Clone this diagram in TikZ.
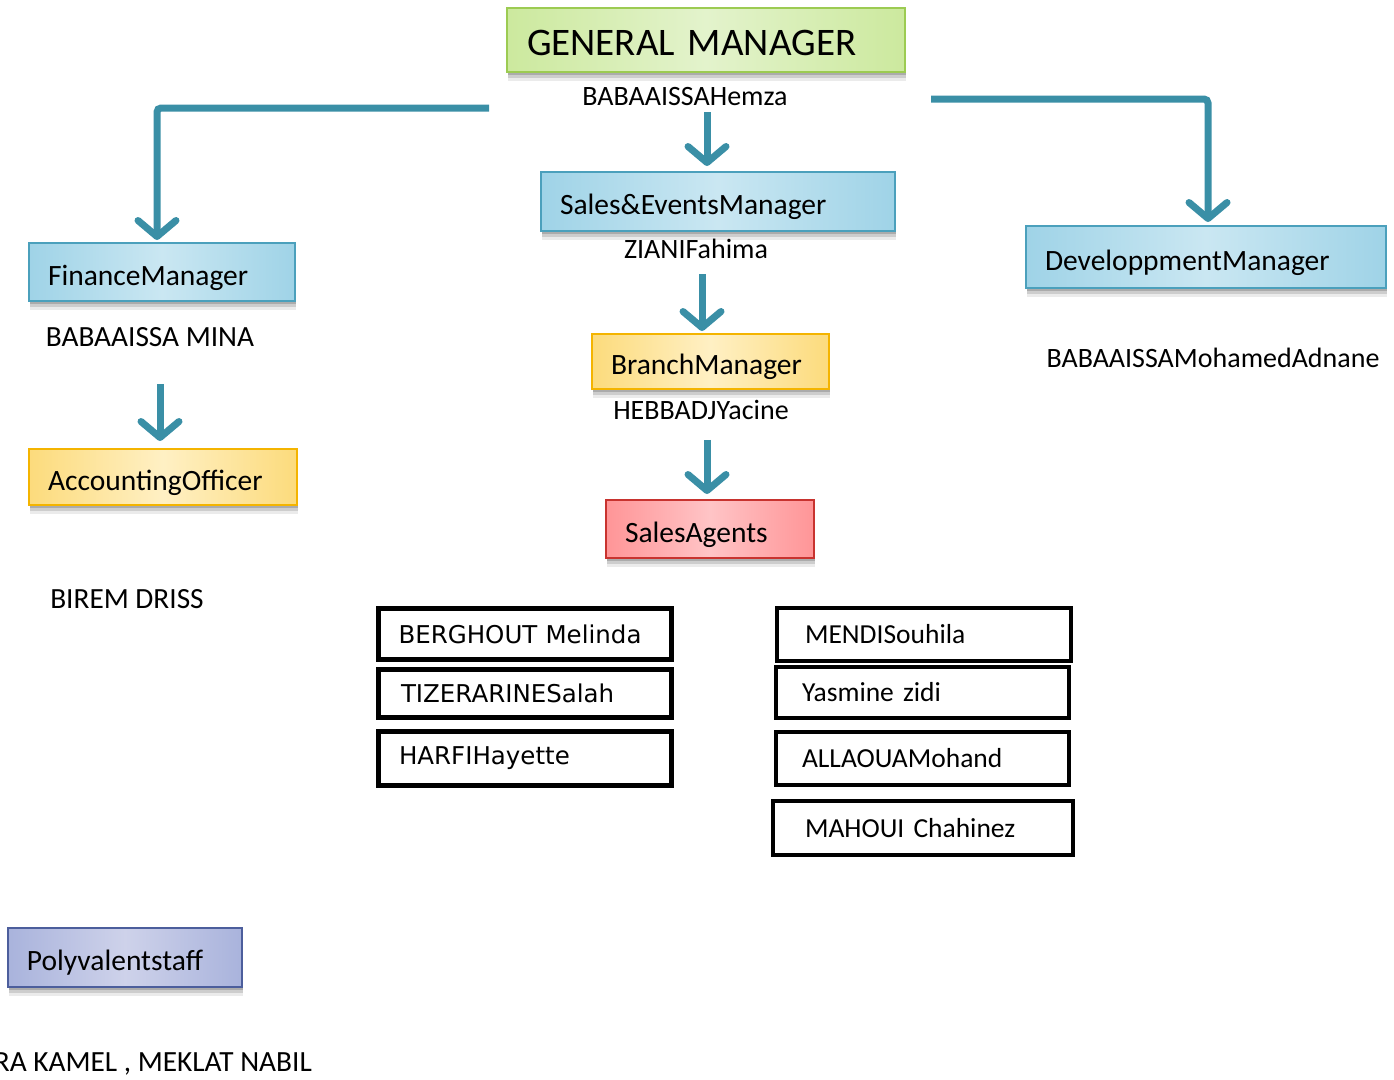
\documentclass[tikz,border=0pt]{standalone}
\usepackage{fontspec}
\setmainfont{Carlito}
\newfontfamily\boxsans{DejaVu Sans}
\usepackage{xcolor}
\usetikzlibrary{arrows.meta,positioning,shadows}

\definecolor{linkteal}{HTML}{3A8FA6}
\definecolor{bluedraw}{HTML}{4BA0BC}
\definecolor{blueside}{HTML}{9FD3E7}
\definecolor{bluemid}{HTML}{CAE7F2}
\definecolor{greendraw}{HTML}{9CCB52}
\definecolor{greenside}{HTML}{CCE99E}
\definecolor{greenmid}{HTML}{E3F3CC}
\definecolor{yellowdraw}{HTML}{F4B400}
\definecolor{yellowside}{HTML}{FCDB7C}
\definecolor{yellowmid}{HTML}{FFF0C4}
\definecolor{reddraw}{HTML}{C8332F}
\definecolor{redside}{HTML}{FF9597}
\definecolor{redmid}{HTML}{FFC4C6}
\definecolor{purpledraw}{HTML}{4C5E9C}
\definecolor{purpleside}{HTML}{A9B3DC}
\definecolor{purplemid}{HTML}{CED2EA}

\begin{document}
\begin{tikzpicture}[x=1pt, y=-1pt,
    post/.style={draw, line width=2pt, inner xsep=19pt, inner ysep=0pt,
                 text height=26pt, text depth=0pt,
                 align=left, font=\fontsize{29.5}{32}\selectfont,
                 general shadow={shadow xshift=1pt, shadow yshift=-3pt, fill=black, opacity=.16},
                 general shadow={shadow xshift=1pt, shadow yshift=-6pt, fill=black, opacity=.13},
                 general shadow={shadow xshift=1pt, shadow yshift=-9pt, fill=black, opacity=.08}},
    greenbox/.style={post, draw=greendraw, left color=greenside, right color=greenside, middle color=greenmid},
    bluebox/.style={post, draw=bluedraw, left color=blueside, right color=blueside, middle color=bluemid},
    yellowbox/.style={post, draw=yellowdraw, left color=yellowside, right color=yellowside, middle color=yellowmid},
    redbox/.style={post, draw=reddraw, left color=redside, right color=redside, middle color=redmid},
    purplebox/.style={post, draw=purpledraw, left color=purpleside, right color=purpleside, middle color=purplemid},
    person/.style={inner sep=0pt, font=\fontsize{28}{30}\selectfont},
    bigperson/.style={person, font=\fontsize{29.3}{32}\selectfont},
    namebox/.style={draw, line width=5pt, inner ysep=0pt, align=left,
                    font=\boxsans\fontsize{24.5}{28}\selectfont},
    agentbox/.style={draw, line width=4.5pt, inner ysep=0pt, align=left,
                     font=\fontsize{27.5}{30}\selectfont},
    link/.style={draw=linkteal, line width=7pt, -{Straight Barb[length=16pt, width=38pt, round]}}
]
\useasboundingbox (0,0) rectangle (1394,1079);

% management posts
\node[greenbox, text width=358pt, inner xsep=20pt, minimum height=64pt,
      text height=30pt, font=\fontsize{39}{42}\selectfont] (gm) at (706,40) {GENERAL MANAGER};
\node[bluebox, text width=316pt, minimum height=59pt] (sales) at (718,201.5) {Sales\&EventsManager};
\node[bluebox, text width=228pt, minimum height=58pt] (fin) at (162,272) {FinanceManager};
\node[bluebox, text width=322pt, minimum height=62pt] (dev) at (1206,257) {DeveloppmentManager};
\node[yellowbox, text width=199pt, minimum height=55pt] (branch) at (710.5,361.5) {BranchManager};
\node[yellowbox, text width=230pt, minimum height=56pt] (acc) at (163,477) {AccountingOfficer};
\node[redbox, text width=170pt, minimum height=58pt] (agents) at (710,529) {SalesAgents};
\node[purplebox, text width=196pt, minimum height=59pt] (poly) at (125,957.5) {Polyvalentstaff};

% people holding the posts
\node[person] (gmname) at (685,97) {BABAAISSAHemza};
\node[person] (salesname) at (696,249) {ZIANIFahima};
\node[person] (branchname) at (701,410) {HEBBADJYacine};
\node[bigperson] (finname) at (150,337) {BABAAISSA MINA};
\node[bigperson] (accname) at (127,599) {BIREM DRISS};
\node[person] (devname) at (1213,358) {BABAAISSAMohamedAdnane};
\node[bigperson, anchor=east] (polyname) at (312,1064) {RA KAMEL , MEKLAT NABIL};

% sales agents
\node[namebox, text width=253pt, inner xsep=20pt, minimum height=51pt] (agent1) at (525,634) {BERGHOUT Melinda};
\node[namebox, text width=248pt, inner xsep=22.5pt, minimum height=48pt] (agent2) at (525,693.5) {TIZERARINESalah};
\node[namebox, text width=252pt, inner xsep=20.5pt, minimum height=54pt] (agent3) at (525,758.5) {HARFIHayette};
\node[agentbox, text width=238pt, inner xsep=28pt, minimum height=53pt] (agent4) at (924,634.5) {MENDISouhila};
\node[agentbox, text width=241pt, inner xsep=26pt, minimum height=51pt] (agent5) at (922.5,692.5) {Yasmine zidi};
\node[agentbox, text width=241pt, inner xsep=26pt, minimum height=53pt] (agent6) at (922.5,758.5) {ALLAOUAMohand};
\node[agentbox, text width=236pt, inner xsep=32pt, minimum height=54pt] (agent7) at (923,828) {MAHOUI Chahinez};

% links
\coordinate (gmleft) at (489,108);
\coordinate (gmright) at (931,99);
\draw[link, rounded corners=4pt, shorten >=2pt] (gmleft) -| ([xshift=-5pt]fin.north);
\draw[link, rounded corners=4pt, shorten >=3pt] (gmright) -| ([xshift=2pt]dev.north);
\draw[link, shorten <=6pt, shorten >=5pt] ([xshift=22pt]gmname.south) -- ([xshift=-11pt]sales.north);
\draw[link, shorten <=15pt, shorten >=2pt] ([xshift=6pt]salesname.south) -- ([xshift=-8.5pt]branch.north);
\draw[link, shorten <=20pt, shorten >=5pt] ([xshift=6pt]branchname.south) -- ([xshift=-3pt]agents.north);
\draw[link, shorten <=37pt, shorten >=7pt] ([xshift=10pt]finname.south) -- ([xshift=-3pt]acc.north);

\end{tikzpicture}
\end{document}
